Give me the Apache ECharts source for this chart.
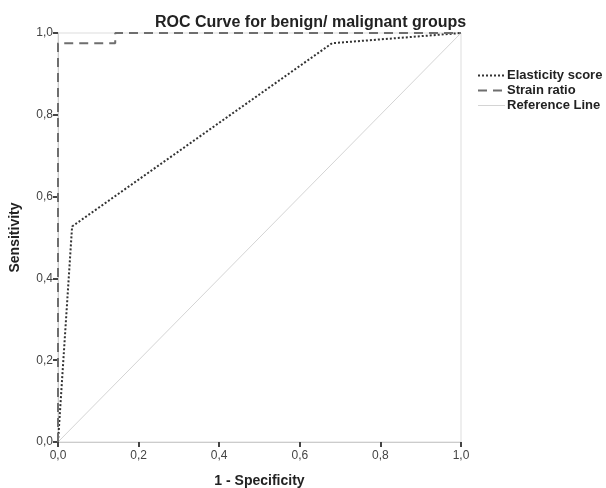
<!DOCTYPE html>
<html><head><meta charset="utf-8">
<script src="https://cdn.jsdelivr.net/npm/echarts@6/dist/echarts.min.js"></script>
<style>html,body{margin:0;padding:0;background:#fff}#c{width:606px;height:488px}</style>
</head><body><div id="c"></div>
<script>
const titleText = 'ROC Curve for benign/ malignant groups';
const xName = '1 - Specificity';
const yName = 'Sensitivity';
const seriesNames = ['Elasticity score', 'Strain ratio', 'Reference Line'];
const elasticityX = [0, 0.035, 0.68, 1];
const elasticityY = [0, 0.527, 0.975, 1];
const strainX = [0, 0, 0.142, 0.142, 1];
const strainY = [0, 0.975, 0.975, 1, 1];
const referenceX = [0, 1];
const referenceY = [0, 1];

const zip = (xs, ys) => xs.map((x, i) => [x, ys[i]]);
const fmt = v => v.toFixed(1).replace('.', ',');
const font = 'Liberation Sans, Arial, sans-serif';

const styles = [
  {color: '#333', width: 2, type: [2, 2]},
  {color: '#6e6e6e', width: 2, type: [9, 6]},
  {color: '#d4d4d4', width: 1, type: 'solid'}
];

const chart = echarts.init(document.getElementById('c'), null, {renderer: 'canvas'});
chart.setOption({
  animation: false,
  backgroundColor: '#fff',
  title: {
    text: titleText, left: 150, top: 10,
    textStyle: {fontFamily: font, fontSize: 16, fontWeight: 'bold', color: '#222'}
  },
  legend: {
    orient: 'vertical', left: 472, top: 64, itemGap: 2,
    itemWidth: 27, itemHeight: 14,
    itemStyle: {opacity: 0},
    textStyle: {fontFamily: font, fontSize: 13, fontWeight: 'bold', color: '#222', padding: [0,0,0,-3]},
    data: seriesNames.map((n, i) => ({name: n, itemStyle: {opacity: 0}, lineStyle: styles[i]}))
  },
  grid: {left: 58, right: 145, top: 33, bottom: 46, outerBoundsMode: 'none', containLabel: false,
         show: true, borderColor: '#ddd', borderWidth: 1},
  xAxis: {
    type: 'value', min: 0, max: 1, interval: 0.2,
    name: xName, nameLocation: 'middle', nameGap: 32,
    nameTextStyle: {fontFamily: font, fontSize: 14, fontWeight: 'bold', color: '#222'},
    axisLine: {lineStyle: {color: '#ccc', width: 1}},
    axisTick: {show: true, length: 5, lineStyle: {color: '#444', width: 2}},
    axisLabel: {formatter: fmt, fontFamily: font, fontSize: 12, color: '#444', margin: 8},
    splitLine: {show: false}
  },
  yAxis: {
    type: 'value', min: 0, max: 1, interval: 0.2,
    name: yName, nameLocation: 'middle', nameGap: 36,
    nameTextStyle: {fontFamily: font, fontSize: 14, fontWeight: 'bold', color: '#222'},
    axisLine: {show: true, lineStyle: {color: '#ccc', width: 1}},
    axisTick: {show: true, length: 5, lineStyle: {color: '#444', width: 2}},
    axisLabel: {formatter: fmt, fontFamily: font, fontSize: 12, color: '#444', margin: 5},
    splitLine: {show: false}
  },
  series: [
    {name: seriesNames[0], type: 'line', data: zip(elasticityX, elasticityY), symbol: 'none',
     lineStyle: styles[0], itemStyle: {color: styles[0].color}},
    {name: seriesNames[1], type: 'line', data: zip(strainX, strainY), symbol: 'none',
     lineStyle: styles[1], itemStyle: {color: styles[1].color}},
    {name: seriesNames[2], type: 'line', data: zip(referenceX, referenceY), symbol: 'none', z: 1,
     lineStyle: styles[2], itemStyle: {color: styles[2].color}}
  ]
});
</script></body></html>
